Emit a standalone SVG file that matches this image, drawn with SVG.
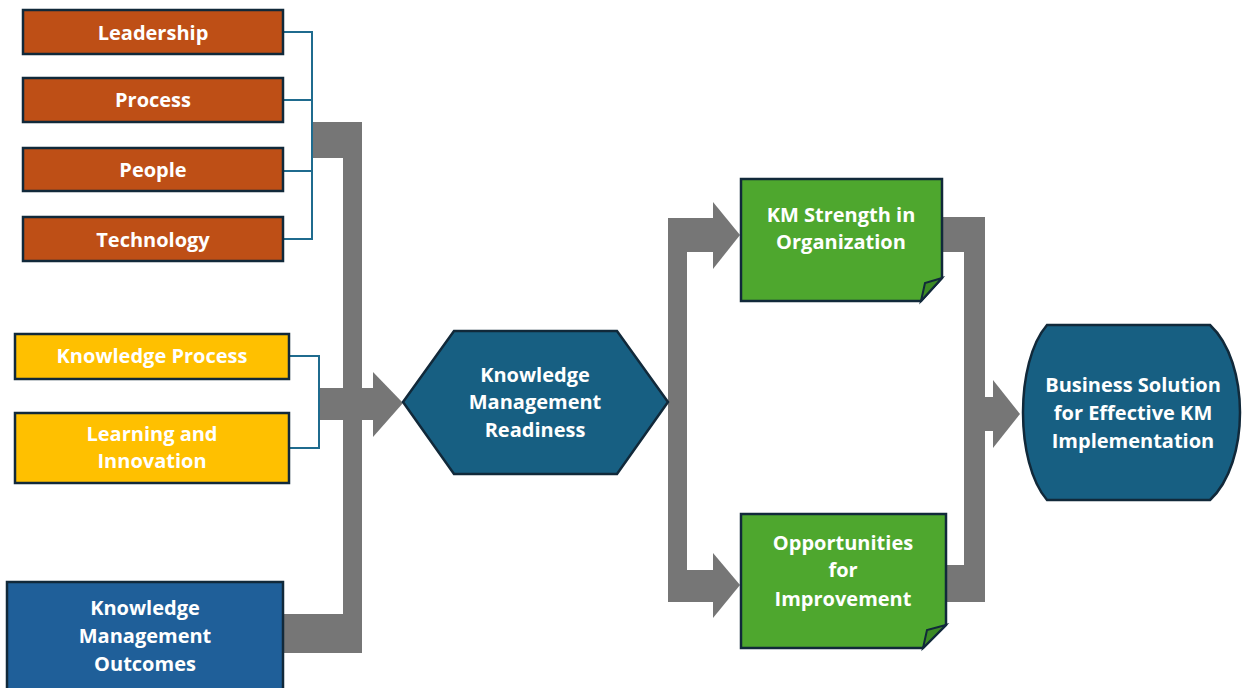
<svg xmlns="http://www.w3.org/2000/svg" width="1242" height="688" viewBox="0 0 1242 688">
<style>
.t{font-family:"Open Sans","Liberation Sans",sans-serif;font-weight:bold;font-size:20px;fill:#ffffff;text-anchor:middle}
.box{stroke:#11293a;stroke-width:2.5}
.or{fill:#BE4F16}
.ye{fill:#FFC000}
.gr{fill:#4EA72E}
.fold{fill:#3C8A24;stroke:#11293a;stroke-width:2}
.dk{fill:#175F82}
.gy{fill:#767676}
.br{fill:none;stroke:#1F6B8E;stroke-width:2}
</style>
<rect width="1242" height="688" fill="#ffffff"/>
<g id="connectors">
  <path class="br" d="M283,32 H312 V239 H283 M283,100 H312 M283,171 H312"/>
  <path class="br" d="M289,356 H319 V448 H289"/>
  <rect class="gy" x="313" y="122" width="49" height="36"/>
  <rect class="gy" x="343" y="122" width="19" height="531"/>
  <rect class="gy" x="283" y="614" width="79" height="39"/>
  <rect class="gy" x="320" y="388" width="54" height="32"/>
  <polygon class="gy" points="373,372 403,403 373,437"/>
  <rect class="gy" x="668" y="218" width="19" height="384"/>
  <rect class="gy" x="668" y="218" width="46" height="34"/>
  <polygon class="gy" points="713,202 740,235 713,269"/>
  <rect class="gy" x="668" y="570" width="46" height="32"/>
  <polygon class="gy" points="713,553 740,585 713,618"/>
  <rect class="gy" x="942" y="217" width="43" height="35"/>
  <rect class="gy" x="964" y="217" width="21" height="385"/>
  <rect class="gy" x="946" y="565" width="39" height="37"/>
  <rect class="gy" x="984" y="397" width="10" height="34"/>
  <polygon class="gy" points="993,380 1020,414 993,448"/>
</g>
<g id="leadership">
  <rect class="box or" x="23" y="10" width="260" height="44"/>
  <text class="t" x="153" y="40">Leadership</text>
</g>
<g id="process">
  <rect class="box or" x="23" y="78" width="260" height="44"/>
  <text class="t" x="153" y="107">Process</text>
</g>
<g id="people">
  <rect class="box or" x="23" y="148" width="260" height="43"/>
  <text class="t" x="153" y="177">People</text>
</g>
<g id="technology">
  <rect class="box or" x="23" y="217" width="260" height="44"/>
  <text class="t" x="153" y="247">Technology</text>
</g>
<g id="knowledge-process">
  <rect class="box ye" x="15" y="334" width="274" height="45"/>
  <text class="t" x="152" y="363">Knowledge Process</text>
</g>
<g id="learning-innovation">
  <rect class="box ye" x="15" y="413" width="274" height="70"/>
  <text class="t" x="152" y="441">Learning and</text>
  <text class="t" x="152" y="468">Innovation</text>
</g>
<g id="km-outcomes">
  <rect class="box" fill="#1F5F99" x="7" y="582" width="276" height="120"/>
  <text class="t" x="145" y="615">Knowledge</text>
  <text class="t" x="145" y="643">Management</text>
  <text class="t" x="145" y="671">Outcomes</text>
</g>
<g id="km-readiness">
  <polygon class="box dk" points="403,402 454,331 617,331 668,402 617,474 454,474"/>
  <text class="t" x="535" y="382">Knowledge</text>
  <text class="t" x="535" y="409">Management</text>
  <text class="t" x="535" y="437">Readiness</text>
</g>
<g id="km-strength">
  <polygon class="box gr" points="741,179 942,179 942,278 921,301 741,301"/>
  <polygon class="fold" points="921,301 942,278 925,283"/>
  <text class="t" x="841" y="222">KM Strength in</text>
  <text class="t" x="841" y="249">Organization</text>
</g>
<g id="opportunities">
  <polygon class="box gr" points="741,514 946,514 946,625 923,648 741,648"/>
  <polygon class="fold" points="923,648 946,625 927,630"/>
  <text class="t" x="843" y="550">Opportunities</text>
  <text class="t" x="843" y="577">for</text>
  <text class="t" x="843" y="606">Improvement</text>
</g>
<g id="business-solution">
  <path class="box dk" d="M1047,325 L1210,325 C1250,362 1250,463 1210,500 L1047,500 C1015,463 1015,362 1047,325 Z"/>
  <text class="t" x="1133" y="392">Business Solution</text>
  <text class="t" x="1133" y="420">for Effective KM</text>
  <text class="t" x="1133" y="448">Implementation</text>
</g>
</svg>
